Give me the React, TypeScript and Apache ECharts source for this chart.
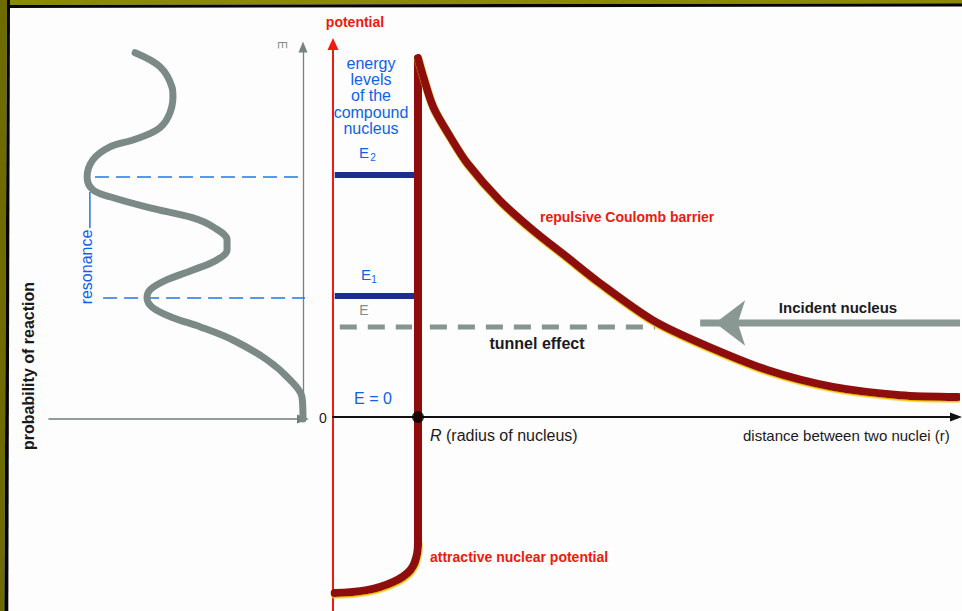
import React, { useEffect, useRef } from "react";
import * as echarts from "echarts";

// ---- data (units: distance r in nuclear radii R, potential/energy in arbitrary units) ----
const energyLevels = [3.37, 6.74]; // E1, E2 of the compound nucleus
const levelSubscripts = ["1", "2"];
// probability of reaction (x) against energy (y) – the resonance curve
const resonanceCurve: [number, number][] = [
  [0.661, 10.2], [0.563, 9.81], [0.516, 9.25], [0.512, 8.97], [0.531, 8.41],
  [0.575, 8.05], [0.669, 7.77], [0.76, 7.58], [0.827, 7.22], [0.85, 6.74],
  [0.827, 6.38], [0.76, 6.19], [0.602, 5.88], [0.433, 5.6], [0.354, 5.35],
  [0.299, 4.99], [0.299, 4.71], [0.339, 4.43], [0.433, 4.15], [0.535, 3.88],
  [0.602, 3.6], [0.614, 3.37], [0.591, 3.1], [0.512, 2.82], [0.406, 2.57],
  [0.276, 2.2], [0.142, 1.65], [0.051, 1.09], [0.004, 0.61], [0, 0],
];
const dashedStart = [0.787, 0.819]; // probability where each level's guide starts
const dashedEnd = -0.118;
const resonanceMark: [number, number][] = [[0.839, 6.32], [0.839, 5.32]];

const nucleusRadius = 1.0;
const wellCurve: [number, number][] = [
  [0.02, -4.9], [0.4, -4.82], [0.71, -4.59], [0.91, -4.26], [0.99, -3.8], [1.0, -3.5],
];
const barrierWall: [number, number][] = [[1.0, -3.6], [1.0, 10.0]];
const coulombCurve: [number, number][] = [
  [1.0, 10.0], [1.05, 9.58], [1.18, 8.63], [1.38, 7.8], [1.58, 7.07], [1.96, 6.04],
  [2.35, 5.21], [2.75, 4.46], [3.14, 3.73], [3.76, 2.7], [4.32, 2.06], [5.11, 1.31],
  [5.88, 0.84], [6.67, 0.61], [7.35, 0.56],
];
const tunnelLevel = 2.51;
const tunnelLeft = [0.08, 0.93];
const tunnelRight = [1.14, 3.79];
const incidentLevel = 2.62;
const incidentFrom = 7.45;
const incidentTo = 4.32;

const FONT = '"Liberation Sans", Arial, sans-serif';
const RED = "#ec1a0c";
const BLUE = "#0f62e6";
const DARK = "#1a1a22";
const GREY = "#7f8e89";

function txt(text: string, x: number, y: number, size: number, fill: string, opts: any = {}) {
  return {
    type: "text",
    x,
    y,
    rotation: opts.rotation || 0,
    z: 20,
    style: {
      text,
      fill,
      font: `${opts.bold ? "bold " : ""}${size}px ${FONT}`,
      align: opts.align || "center",
      verticalAlign: opts.va || "middle",
      lineHeight: opts.lineHeight,
      rich: opts.rich,
    },
  };
}

export default function App() {
  const ref = useRef<HTMLDivElement>(null);
  useEffect(() => {
    if (!ref.current) return;
    const chart = echarts.init(ref.current, null, { renderer: "svg" });
    const hidden = { axisTick: { show: false }, axisLabel: { show: false }, splitLine: { show: false } };

    const series: any[] = [];
    // left panel: guides for levels
    energyLevels.forEach((lvl, i) => {
      series.push({
        type: "line", xAxisIndex: 0, yAxisIndex: 0, clip: false, symbol: "none", z: 2,
        data: [[dashedStart[i], lvl], [dashedEnd, lvl]],
        lineStyle: { color: "#1e78e6", width: 1.6, type: [14, 7] },
      });
    });
    series.push({
      type: "line", xAxisIndex: 0, yAxisIndex: 0, clip: false, symbol: "none", z: 2,
      data: resonanceMark, lineStyle: { color: "#1e78e6", width: 1.5 },
    });
    series.push({
      type: "line", xAxisIndex: 0, yAxisIndex: 0, clip: false, symbol: "none", smooth: 0.35, z: 3,
      data: resonanceCurve, lineStyle: { color: "#7b8a86", width: 7, cap: "round", join: "round" },
    });
    // main panel
    energyLevels.forEach((lvl) => {
      series.push({
        type: "line", xAxisIndex: 1, yAxisIndex: 1, clip: false, symbol: "none", z: 3,
        data: [[0.02, lvl], [nucleusRadius, lvl]],
        lineStyle: { color: "#1d2e92", width: 6 },
      });
    });
    [tunnelLeft, tunnelRight].forEach((seg) => {
      series.push({
        type: "line", xAxisIndex: 1, yAxisIndex: 1, clip: false, symbol: "none", z: 3,
        data: [[seg[0], tunnelLevel], [seg[1], tunnelLevel]],
        lineStyle: { color: "#86958f", width: 5, type: [17, 11] },
      });
    });
    series.push({
      type: "line", xAxisIndex: 1, yAxisIndex: 1, clip: false, z: 4, symbol: "none", showSymbol: true,
      data: [
        { value: [incidentFrom, incidentLevel], symbol: "none" },
        {
          value: [incidentTo, incidentLevel], symbol: "arrow", symbolSize: [34, 30], symbolRotate: 90,
          symbolOffset: [15, 0], itemStyle: { color: "#8a9893" },
        },
      ],
      lineStyle: { color: "#8a9893", width: 7 },
    });
    const barrierStyle = {
      color: "#8e0c0c", width: 8, cap: "round", join: "round",
      shadowColor: "#f3c000", shadowBlur: 0, shadowOffsetY: 1.5, shadowOffsetX: 0.5,
    };
    series.push({
      type: "line", xAxisIndex: 1, yAxisIndex: 1, clip: false, symbol: "none", smooth: 0.4, z: 5,
      data: wellCurve, lineStyle: barrierStyle,
    });
    series.push({
      type: "line", xAxisIndex: 1, yAxisIndex: 1, clip: false, symbol: "none", z: 5,
      data: barrierWall, lineStyle: { color: "#8e0c0c", width: 8, cap: "butt" },
    });
    series.push({
      type: "line", xAxisIndex: 1, yAxisIndex: 1, clip: false, symbol: "none", smooth: 0.3, z: 5,
      data: coulombCurve, lineStyle: barrierStyle,
    });
    series.push({
      type: "scatter", xAxisIndex: 1, yAxisIndex: 1, z: 8, symbolSize: 12,
      data: [[nucleusRadius, 0]], itemStyle: { color: "#000" },
    });

    const graphics: any[] = [
      { type: "polygon", z: 30, shape: { points: [[0, 0], [962, 0], [962, 3.3], [0, 5]] }, style: { fill: "#8a8a06" } },
      { type: "polygon", z: 30, shape: { points: [[0, 5], [962, 3.3], [962, 6.5], [0, 8]] }, style: { fill: "#050505" } },
      { type: "polygon", z: 31, shape: { points: [[0, 0], [7, 0], [4.3, 611], [0, 611]] }, style: { fill: "#6e6c00" } },
      { type: "polygon", z: 31, shape: { points: [[7, 0], [10, 0], [8.3, 611], [4.3, 611]] }, style: { fill: "#050505" } },
      txt("potential", 355, 22, 14, RED, { bold: true }),
      txt("energy\nlevels\nof the\ncompound\nnucleus", 371, 55, 16, BLUE, { va: "top", lineHeight: 16.3 }),
      txt("E", 364, 152, 15, BLUE),
      txt(levelSubscripts[1], 373, 157, 10, BLUE),
      txt("E", 366, 274, 15, BLUE),
      txt(levelSubscripts[0], 374, 279, 10, BLUE),
      txt("E", 364, 310, 14, GREY),
      txt("tunnel effect", 537, 343, 16, DARK, { bold: true }),
      txt("E = 0", 373, 398, 16, BLUE),
      txt("0", 323, 418, 14, DARK),
      txt("{i|R} (radius of nucleus)", 430, 435, 16, DARK, {
        align: "left",
        rich: { i: { fontStyle: "italic", fontSize: 16, fontFamily: FONT, fill: DARK } },
      }),
      txt("distance between two nuclei (r)", 743, 435, 15, DARK, { align: "left" }),
      txt("Incident nucleus", 838, 307, 15, DARK, { bold: true }),
      txt("repulsive Coulomb barrier", 540, 217, 14, RED, { bold: true, align: "left" }),
      txt("attractive nuclear potential", 430, 557, 14, RED, { bold: true, align: "left" }),
      txt("probability of reaction", 28, 366, 16, DARK, { bold: true, rotation: Math.PI / 2 }),
      txt("resonance", 86, 267, 16, BLUE, { rotation: Math.PI / 2 }),
      txt("E", 282, 45, 12, GREY, { rotation: -Math.PI / 2 }),
    ];

    chart.setOption({
      animation: false,
      backgroundColor: "#fdfdfd",
      grid: [
        { left: 49, right: 659, top: 47, bottom: 192, outerBoundsMode: "none" },
        { left: 333, right: 6, top: 44, bottom: 0, outerBoundsMode: "none" },
      ],
      xAxis: [
        {
          gridIndex: 0, type: "value", min: 0, max: 1, inverse: true, position: "bottom",
          axisLine: { onZero: false, symbol: ["none", "triangle"], symbolSize: [9, 12], lineStyle: { color: "#6f7e79", width: 1.5 } },
          ...hidden,
        },
        {
          gridIndex: 1, type: "value", min: 0, max: 7.33,
          axisLine: { onZero: true, symbol: ["none", "triangle"], symbolSize: [9, 12], lineStyle: { color: "#111", width: 2 } },
          ...hidden,
        },
      ],
      yAxis: [
        {
          gridIndex: 0, type: "value", min: 0, max: 10.36, position: "right",
          axisLine: { onZero: false, symbol: ["none", "triangle"], symbolSize: [9, 11], lineStyle: { color: "#75847f", width: 1.3 } },
          ...hidden,
        },
        {
          gridIndex: 1, type: "value", min: -5.4, max: 10.39, position: "left",
          axisLine: { onZero: false, symbol: ["none", "triangle"], symbolSize: [11, 12], lineStyle: { color: "#f01a10", width: 2 } },
          ...hidden,
        },
      ],
      series,
      graphic: graphics,
    });
    return () => chart.dispose();
  }, []);
  return <div ref={ref} style={{ position: "fixed", left: 0, top: 0, width: 962, height: 611 }} />;
}
